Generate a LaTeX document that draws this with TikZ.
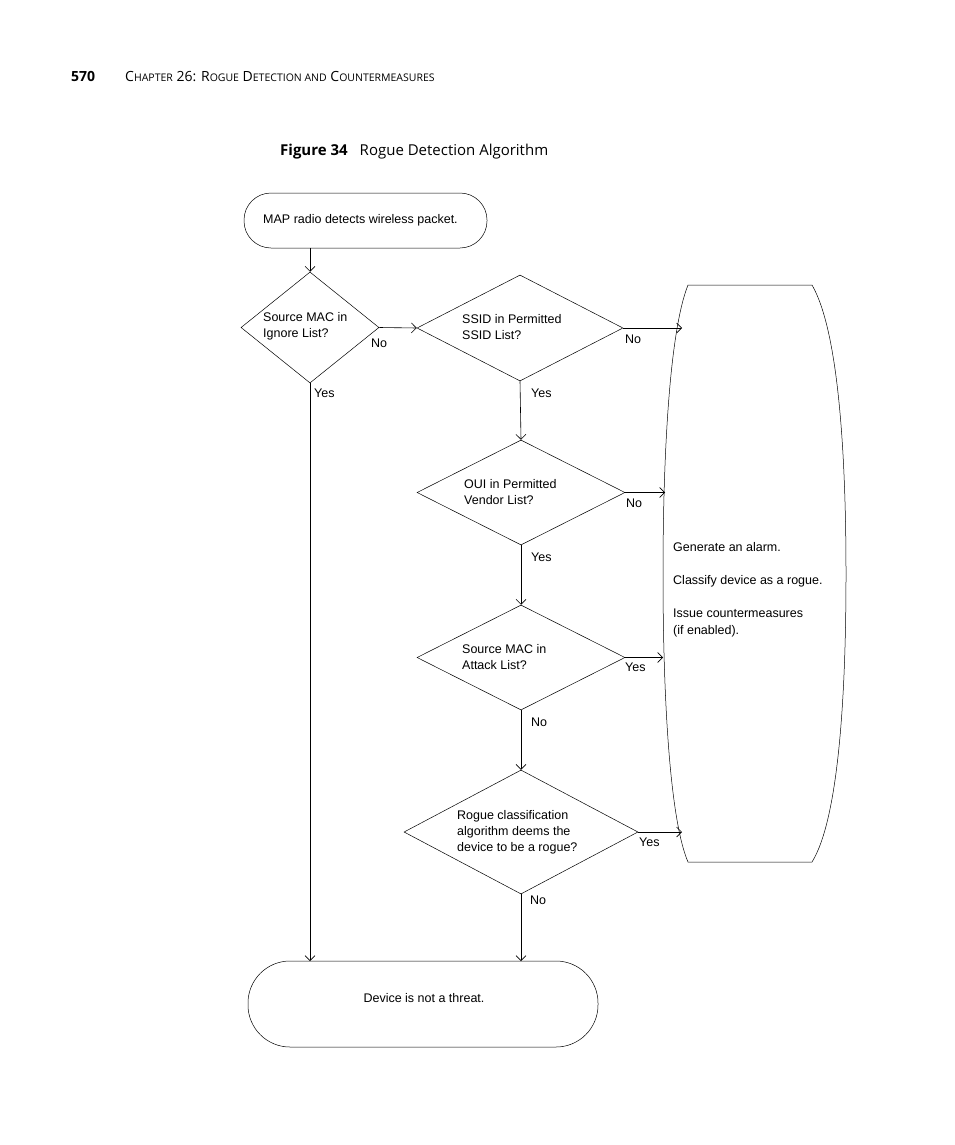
\documentclass[tikz,border=0pt]{standalone}
\usepackage{fontspec}
\setmainfont{Liberation Sans}
\newfontfamily\capfont{Open Sans}
\usetikzlibrary{shapes.geometric,arrows.meta}
\tikzset{
  decision/.style={draw, diamond, inner sep=0pt, line width=0.5pt},
  lbl/.style={anchor=west, inner sep=0pt, align=left, font=\fontsize{12.5}{16}\selectfont},
  flow/.style={draw, line width=0.6pt, -{Straight Barb[length=5pt,width=10pt]}},
  ans/.style={anchor=west, inner sep=0pt, font=\fontsize{12.5}{15}\selectfont}
}
\begin{document}
\begin{tikzpicture}[x=1pt,y=-1pt]
	\useasboundingbox (0,0) rectangle (954,1145);

	%Page header and caption
	\node[anchor=base west, inner sep=0pt, font=\capfont\bfseries\fontsize{14}{16}\selectfont] (pg) at (71,82) {570};
	\node[anchor=base west, inner sep=0pt, font=\capfont\fontsize{14}{16}\selectfont] (chap) at (125,82)
		{C{\fontsize{10.5}{12}\selectfont HAPTER} 26: R{\fontsize{10.5}{12}\selectfont OGUE} D{\fontsize{10.5}{12}\selectfont ETECTION AND} C{\fontsize{10.5}{12}\selectfont OUNTERMEASURES}};
	\node[anchor=base west, inner sep=0pt, font=\capfont\fontsize{15}{18}\selectfont] (cap) at (280,155)
		{\textbf{Figure 34}\hspace{12pt}Rogue Detection Algorithm};

	%Start and end terminals
	\draw[line width=0.5pt, rounded corners=27pt] (244,193) rectangle (487,248);
	\node[lbl] (start) at (263,220) {MAP radio detects wireless packet.};
	\draw[line width=0.5pt, rounded corners=42pt] (248,961) rectangle (598,1047);
	\node[lbl, anchor=center] (stop) at (424,998) {Device is not a threat.};

	%Decisions
	\node[decision, minimum width=138pt, minimum height=111pt] (d1) at (310,327.5) {};
	\node[decision, minimum width=206pt, minimum height=106pt] (d2) at (520,328) {};
	\node[decision, minimum width=208pt, minimum height=105pt] (d3) at (521,492.5) {};
	\node[decision, minimum width=208pt, minimum height=105pt] (d4) at (521,657.5) {};
	\node[decision, minimum width=234pt, minimum height=124pt] (d5) at (521,832) {};
	\node[lbl] at (263,326) {Source MAC in\\Ignore List?};
	\node[lbl] at (462,327) {SSID in Permitted\\SSID List?};
	\node[lbl] at (464,492) {OUI in Permitted\\Vendor List?};
	\node[lbl] at (462,657) {Source MAC in\\Attack List?};
	\node[lbl] at (457,832) {Rogue classification\\algorithm deems the\\device to be a rogue?};

	%Action box
	\draw[line width=0.5pt] (688,285) -- (812,285)
		.. controls (838,330) and (846,450) .. (846,574)
		.. controls (846,700) and (838,820) .. (812,862)
		-- (688,862)
		.. controls (670,820) and (663,700) .. (663,574)
		.. controls (663,450) and (670,330) .. (688,285);
	\node[lbl, font=\fontsize{12.5}{16.5}\selectfont] (act) at (673,590)
		{Generate an alarm.\\[16.5pt]Classify device as a rogue.\\[16.5pt]Issue countermeasures\\(if enabled).};
	\coordinate (a2) at (682,328);
	\coordinate (a3) at (665,492.5);
	\coordinate (a4) at (663,657.5);
	\coordinate (a5) at (682,832);
	\coordinate (e1) at (310,961);
	\coordinate (e5) at (521,961);

	%Connectors
	\draw[flow] (310,248) -- (d1.north);
	\draw[flow] (d1.east) -- (d2.west);
	\draw[flow] (d1.south) -- (e1);
	\draw[flow] (d2.east) -- (a2);
	\draw[flow] (d2.south) -- (d3.north);
	\draw[flow] (d3.east) -- (a3);
	\draw[flow] (d3.south) -- (d4.north);
	\draw[flow] (d4.east) -- (a4);
	\draw[flow] (d4.south) -- (d5.north);
	\draw[flow] (d5.east) -- (a5);
	\draw[flow] (d5.south) -- (e5);

	%Answers
	\node[ans] at (371,343) {No};
	\node[ans] at (314,393) {Yes};
	\node[ans] at (625,339) {No};
	\node[ans] at (531,393) {Yes};
	\node[ans] at (626,503) {No};
	\node[ans] at (531,557) {Yes};
	\node[ans] at (625,667) {Yes};
	\node[ans] at (531,722) {No};
	\node[ans] at (639,842) {Yes};
	\node[ans] at (530,900) {No};
\end{tikzpicture}
\end{document}
